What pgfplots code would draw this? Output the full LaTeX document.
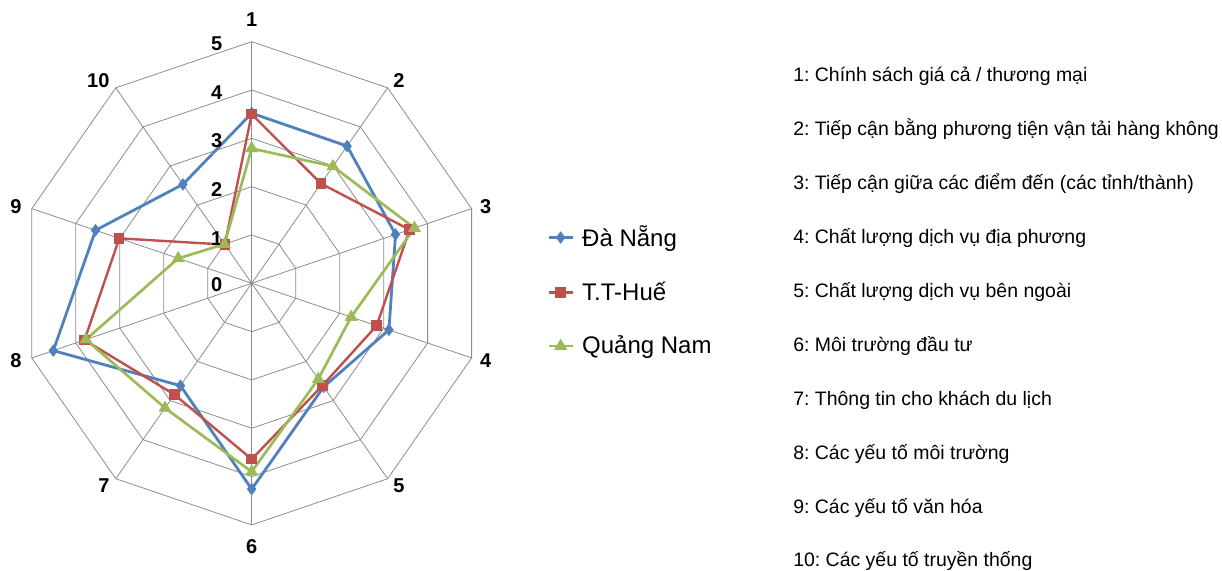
\documentclass[border=0pt]{standalone}
\usepackage{fontspec}
\setmainfont{Liberation Sans}
\usepackage{pgfplots}
\pgfplotsset{compat=1.18}
\frenchspacing
\definecolor{cblue}{HTML}{4F81BD}
\definecolor{cred}{HTML}{C0504D}
\definecolor{cgreen}{HTML}{9BBB59}
\definecolor{gridc}{HTML}{8C8C8C}
\newcommand\pxy[2]{(rel axis cs:{#1/1222},{1-#2/571})}
\begin{document}
\begin{tikzpicture}
\begin{axis}[
  name=ax,
  width=916.5pt, height=428.25pt, scale only axis,
  xmin=-5.442, xmax=20.980, ymin=-5.954, ymax=5.863,
  hide axis, clip=false,
  legend style={at={(0.4475,0.609)}, anchor=north west, draw=none, fill=none,
    font=\fontsize{18}{20}\selectfont, row sep=21pt, column sep=4pt, inner sep=0pt},
  legend cell align=left,
  legend image code/.code={\draw[mark repeat=2,mark phase=2,#1] plot coordinates {(0cm,0cm) (0.32cm,0cm) (0.64cm,0cm)};},
]
% grid decagons
\addplot[gridc, line width=0.6pt, data cs=polar, forget plot] coordinates {(90,1)(54,1)(18,1)(-18,1)(-54,1)(-90,1)(-126,1)(-162,1)(-198,1)(-234,1)(90,1)};
\addplot[gridc, line width=0.6pt, data cs=polar, forget plot] coordinates {(90,2)(54,2)(18,2)(-18,2)(-54,2)(-90,2)(-126,2)(-162,2)(-198,2)(-234,2)(90,2)};
\addplot[gridc, line width=0.6pt, data cs=polar, forget plot] coordinates {(90,3)(54,3)(18,3)(-18,3)(-54,3)(-90,3)(-126,3)(-162,3)(-198,3)(-234,3)(90,3)};
\addplot[gridc, line width=0.6pt, data cs=polar, forget plot] coordinates {(90,4)(54,4)(18,4)(-18,4)(-54,4)(-90,4)(-126,4)(-162,4)(-198,4)(-234,4)(90,4)};
\addplot[gridc, line width=0.6pt, data cs=polar, forget plot] coordinates {(90,5)(54,5)(18,5)(-18,5)(-54,5)(-90,5)(-126,5)(-162,5)(-198,5)(-234,5)(90,5)};
% spokes
\addplot[gridc, line width=0.6pt, data cs=polar, forget plot] coordinates {(90,5)(-90,5)};
\addplot[gridc, line width=0.6pt, data cs=polar, forget plot] coordinates {(54,5)(-126,5)};
\addplot[gridc, line width=0.6pt, data cs=polar, forget plot] coordinates {(18,5)(-162,5)};
\addplot[gridc, line width=0.6pt, data cs=polar, forget plot] coordinates {(-18,5)(-198,5)};
\addplot[gridc, line width=0.6pt, data cs=polar, forget plot] coordinates {(-54,5)(-234,5)};
% series
\addplot[cblue, line width=2.1pt, mark=diamond*, mark size=3pt, data cs=polar] coordinates {
 (90,3.52)(54,3.51)(18,3.27)(-18,3.12)(-54,2.65)(-90,4.26)(-126,2.62)(-162,4.51)(-198,3.55)(-234,2.53)(90,3.52)};
\addlegendentry{Đà Nẵng}
\addplot[cred, line width=1.8pt, mark=square*, mark size=3pt, data cs=polar] coordinates {
 (90,3.50)(54,2.55)(18,3.59)(-18,2.84)(-54,2.61)(-90,3.64)(-126,2.845)(-162,3.80)(-198,3.01)(-234,0.99)(90,3.50)};
\addlegendentry{T.T-Huế}
\addplot[cgreen, line width=2pt, mark=triangle*, mark size=3.6pt, data cs=polar] coordinates {
 (90,2.79)(54,2.99)(18,3.70)(-18,2.26)(-54,2.45)(-90,3.90)(-126,3.19)(-162,3.77)(-198,1.67)(-234,1.00)(90,2.79)};
\addlegendentry{Quảng Nam}
% axis labels
\begin{scope}[every node/.style={font=\bfseries\fontsize{15}{15}\selectfont, inner sep=0pt}]
\node at \pxy{251.7}{20} {1};
\node at \pxy{399}{80.7} {2};
\node at \pxy{485.7}{206.7} {3};
\node at \pxy{485.7}{360.7} {4};
\node at \pxy{399}{486} {5};
\node at \pxy{251.7}{546.7} {6};
\node at \pxy{104}{486} {7};
\node at \pxy{16}{360.7} {8};
\node at \pxy{16}{206.7} {9};
\node at \pxy{98.3}{80.7} {10};
\node at \pxy{216.7}{44} {5};
\node at \pxy{216.7}{92.7} {4};
\node at \pxy{216.7}{140.7} {3};
\node at \pxy{216.7}{189.3} {2};
\node at \pxy{216.7}{238.3} {1};
\node at \pxy{216.7}{285} {0};
\end{scope}
% category descriptions
\begin{scope}[every node/.style={font=\fontsize{14.6}{15}\selectfont, inner sep=0pt, anchor=base west}]
\node at \pxy{793}{82} {1: Chính sách giá cả / thương mại};
\node at \pxy{793}{136} {2: Tiếp cận bằng phương tiện vận tải hàng không};
\node at \pxy{793}{190} {3: Tiếp cận giữa các điểm đến (các tỉnh/thành)};
\node at \pxy{793}{244} {4: Chất lượng dịch vụ địa phương};
\node at \pxy{793}{298} {5: Chất lượng dịch vụ bên ngoài};
\node at \pxy{793}{352} {6: Môi trường đầu tư};
\node at \pxy{793}{406} {7: Thông tin cho khách du lịch};
\node at \pxy{793}{460} {8: Các yếu tố môi trường};
\node at \pxy{793}{514} {9: Các yếu tố văn hóa};
\node at \pxy{793}{567} {10: Các yếu tố truyền thống};
\end{scope}
\end{axis}
\pgfresetboundingbox
\path[use as bounding box] (ax.south west) rectangle (ax.north east);
\end{tikzpicture}
\end{document}
